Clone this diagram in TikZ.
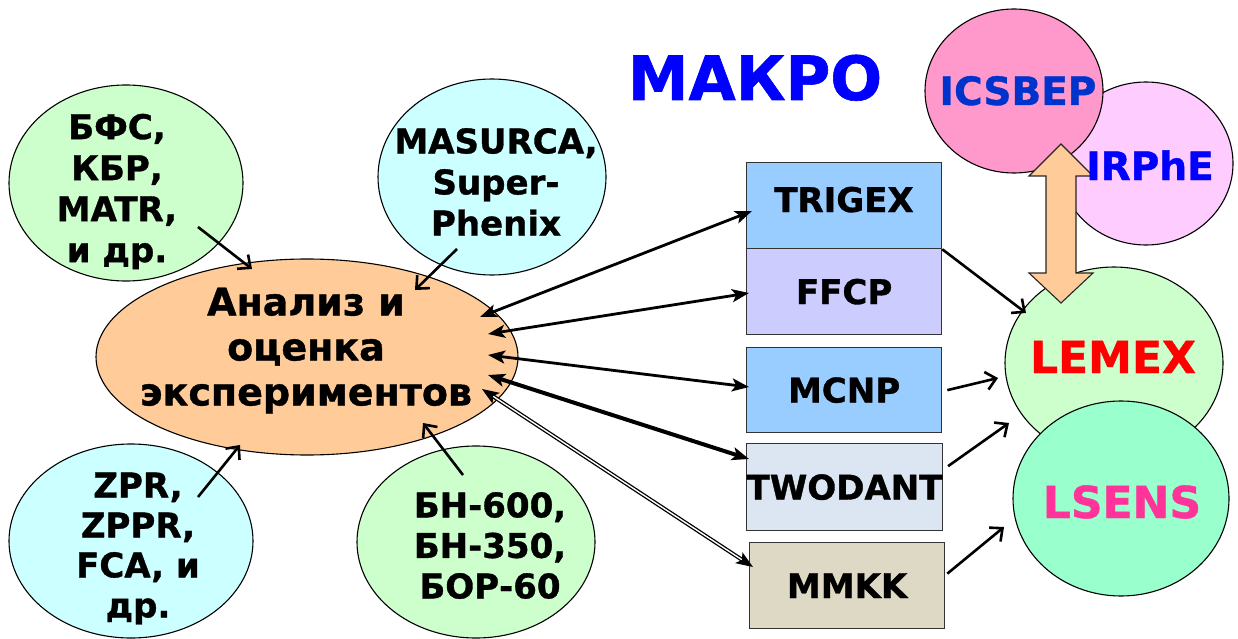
\documentclass[tikz,border=0pt]{standalone}
\usepackage{fontspec}
\setmainfont{DejaVu Sans}[BoldFeatures={FakeBold=1}]
\usetikzlibrary{shapes.geometric,arrows.meta}
\definecolor{cgreen}{HTML}{CCFFCC}
\definecolor{ccyan}{HTML}{CCFFFF}
\definecolor{corange}{HTML}{FFCC99}
\definecolor{cblue}{HTML}{99CCFF}
\definecolor{clav}{HTML}{CCCCFF}
\definecolor{cgrey}{HTML}{DCE6F2}
\definecolor{cbeige}{HTML}{DDD9C4}
\definecolor{cpink}{HTML}{FF99CC}
\definecolor{clpink}{HTML}{FFCCFF}
\definecolor{cmint}{HTML}{99FFCC}
\definecolor{tdblue}{HTML}{0033CC}
\definecolor{tblue}{HTML}{0000FF}
\definecolor{tred}{HTML}{FF0000}
\definecolor{tmag}{HTML}{FF3399}
\begin{document}
\begin{tikzpicture}[x=1pt,y=-1pt,
  ell/.style={ellipse,draw=black,line width=1.1pt,inner sep=0pt},
  lbl/.style={align=center,inner sep=0pt,font=\bfseries\fontsize{34}{41}\selectfont},
  bigtxt/.style={inner sep=0pt,anchor=base,font=\bfseries\fontsize{#1}{#1}\selectfont},
  box/.style={rectangle,draw=black!80,line width=1.3pt,minimum width=195pt,minimum height=86pt,inner sep=0pt,font=\bfseries\fontsize{34}{40}\selectfont},
  oarr/.style={line width=2.6pt,-{Straight Barb[length=10pt,width=18pt,line width=2.6pt]}},
  darr/.style={line width=2.8pt,{Stealth[length=17pt,width=13pt,inset=4pt]}-{Stealth[length=17pt,width=13pt,inset=4pt]}},
]
\useasboundingbox (0,0) rectangle (1238,639);

% left ellipses
\node[ell,fill=cgreen,minimum width=234pt,minimum height=196pt] (bfs) at (126,183) {};
\node[lbl] (bfst) at (117,191.5) {БФС,\\КБР,\\MATR,\\и др.};
\node[ell,fill=ccyan,minimum width=228pt,minimum height=196pt] (mas) at (492,177) {};
\node[lbl] (mast) at (496,182) {MASURCA,\\Super-\\Phenix};
\node[ell,fill=ccyan,minimum width=244pt,minimum height=194pt] (zpr) at (131,541) {};
\node[lbl,font=\bfseries\fontsize{34}{40}\selectfont] (zprt) at (138,548.5) {ZPR,\\ZPPR,\\FCA, и\\др.};
\node[ell,fill=cgreen,minimum width=238pt,minimum height=192pt] (bn) at (476,542) {};
\node[lbl,font=\bfseries\fontsize{34}{40.5}\selectfont] (bnt) at (490,545.5) {БН-600,\\БН-350,\\БОР-60};
\node[ell,fill=corange,minimum width=422pt,minimum height=196pt] (c) at (307,357) {};
\node[lbl,font=\bfseries\fontsize{38}{45}\selectfont] (ct) at (306,350.5) {Анализ и\\оценка\\экспериментов};

% title
\node[bigtxt=61,text=tblue] (title) at (755,100) {МАКРО};

% boxes
\node[box,fill=cblue,anchor=north west] (tr) at (746,162) {};
\node[bigtxt=34] (trt) at (844,212) {TRIGEX};
\node[box,fill=clav,anchor=north west] (ff) at (746,248) {FFCP};
\node[box,fill=cblue,anchor=north west,minimum height=85pt] (mc) at (746,347) {MCNP};
\node[box,fill=cgrey,anchor=north west,minimum height=87pt] (tw) at (746,443) {TWODANT};
\node[box,fill=cbeige,anchor=north west] (mm) at (749,542) {MMKK};

% right ellipses
\node[ell,fill=clpink,minimum width=174pt,minimum height=163pt] (irp) at (1146,163.5) {};
\node[ell,fill=cpink,minimum width=178pt,minimum height=164pt] (ics) at (1014,91) {};
\node[bigtxt=39,text=tdblue] (icst) at (1018,105) {ICSBEP};
\node[ell,fill=cgreen,minimum width=218pt,minimum height=192pt] (lem) at (1114,363) {};
\node[ell,fill=cmint,minimum width=216pt,minimum height=195pt] (lse) at (1121,498.5) {};
\node[bigtxt=44,text=tred] (lemt) at (1113,373) {LEMEX};
\node[bigtxt=44,text=tmag] (lset) at (1122,518) {LSENS};

% block double arrow between ICSBEP and LEMEX
\draw[fill=corange,draw=black!85,line width=1.1pt]
  (1061,144) -- (1093,176) -- (1076,176) -- (1076,273) -- (1093,273) -- (1061,303)
  -- (1029,273) -- (1046,273) -- (1046,176) -- (1029,176) -- cycle;
\node[bigtxt=39,text=tblue] (irpt) at (1150,180) {IRPhE};

% connector end points
\coordinate (a1s) at (198,227); \coordinate (a1e) at (252,269);
\coordinate (a2s) at (457,249); \coordinate (a2e) at (415,290);
\coordinate (a3s) at (198,497); \coordinate (a3e) at (240,445);
\coordinate (a4s) at (463,475); \coordinate (a4e) at (423,423);
\coordinate (c1) at (480,317); \coordinate (b1) at (752,211);
\coordinate (c2) at (488,334); \coordinate (b2) at (749,293);
\coordinate (c3) at (488,355); \coordinate (b3) at (749,387);
\coordinate (c4) at (488,375); \coordinate (b4) at (749,459);
\coordinate (c5) at (482,389); \coordinate (b5) at (753,567);
\coordinate (l1) at (1026,313);
\coordinate (l2) at (998,378);
\coordinate (l3) at (1009,423);
\coordinate (l4) at (1004,527);

% left arrows into the analysis ellipse
\draw[oarr] (a1s) -- (a1e);
\draw[oarr] (a2s) -- (a2e);
\draw[oarr] (a3s) -- (a3e);
\draw[oarr] (a4s) -- (a4e);

% double arrows to the codes
\draw[darr] (c1) -- (b1);
\draw[darr] (c2) -- (b2);
\draw[darr] (c3) -- (b3);
\draw[darr,line width=4pt] (c4) -- (b4);
\draw[line width=1.3pt,double,double distance=1.4pt,{Stealth[length=17pt,width=13pt,inset=4pt]}-{Stealth[length=17pt,width=13pt,inset=4pt]}] (c5) -- (b5);

% arrows to LEMEX / LSENS
\draw[oarr] (tr.south east) -- (l1);
\draw[oarr] ([xshift=5pt]mc.east) -- (l2);
\draw[oarr] ([xshift=5pt,yshift=21pt]tw.east) -- (l3);
\draw[oarr] ([xshift=2pt,yshift=12pt]mm.east) -- (l4);
\end{tikzpicture}
\end{document}
